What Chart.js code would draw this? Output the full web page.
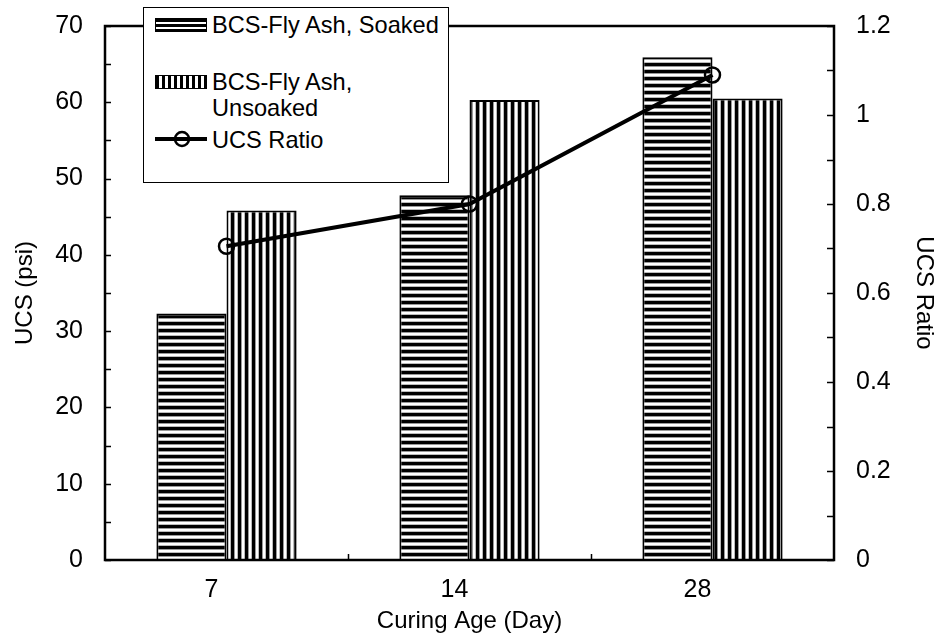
<!DOCTYPE html>
<html>
<head>
<meta charset="utf-8">
<script src="https://cdn.jsdelivr.net/npm/chart.js@4.4.1/dist/chart.umd.min.js"></script>
<style>
  body { margin: 0; background: #fff; }
  #wrap { position: relative; width: 938px; height: 637px; }
  #chart { position: absolute; left: 0; top: 0; }
  #legend {
    position: absolute; left: 143px; top: 7px; width: 306px; height: 176px;
    box-sizing: border-box; border: 1.5px solid #000; background: #fff;
    font-family: "Liberation Sans", Arial, sans-serif; font-size: 23.6px; color: #000;
  }
  #legend .txt { position: absolute; left: 68px; line-height: 26px; white-space: nowrap; }
  #legend .sw { position: absolute; left: 11px; width: 52px; height: 14px; box-sizing: border-box; border: 1.5px solid #000; }
  .sw.horiz { background: repeating-linear-gradient(to bottom, #000 0 3px, #fff 3px 5px); }
  .sw.vert { background: repeating-linear-gradient(to right, #000 0 3px, #fff 3px 6px); }
</style>
</head>
<body>
<div id="wrap">
  <canvas id="chart" width="938" height="637"></canvas>
  <div id="legend">
    <div class="sw horiz" style="top:10px"></div>
    <div class="txt" style="top:4px">BCS-Fly Ash, Soaked</div>
    <div class="sw vert" style="top:67px"></div>
    <div class="txt" style="top:61px">BCS-Fly Ash,<br>Unsoaked</div>
    <svg style="position:absolute;left:11px;top:121px" width="52" height="20">
      <line x1="0" y1="10" x2="52" y2="10" stroke="#000" stroke-width="4"/>
      <circle cx="27" cy="10" r="7" fill="none" stroke="#000" stroke-width="2.5"/>
    </svg>
    <div class="txt" style="top:119px">UCS Ratio</div>
  </div>
</div>
<script>
const categories = ['7', '14', '28'];
const soaked = [32.3, 47.8, 65.9];
const unsoaked = [45.8, 60.3, 60.5];
const ratio = [0.705, 0.80, 1.09];

Chart.defaults.font.family = '"Liberation Sans", Arial, sans-serif';
Chart.defaults.color = '#000';

function stripes(horizontal) {
  const c = document.createElement('canvas');
  c.width = 7; c.height = 7;
  const g = c.getContext('2d');
  g.fillStyle = '#fff';
  g.fillRect(0, 0, 7, 7);
  const cols = ['#000', '#000', '#000', '#999', '#fff', '#fff', '#bbb'];
  cols.forEach((col, i) => {
    g.fillStyle = col;
    if (horizontal) g.fillRect(0, i, 7, 1);
    else g.fillRect(i, 0, 1, 7);
  });
  return g.createPattern(c, 'repeat');
}

// frame + inside tick marks like the original
const frameTicks = {
  id: 'frameTicks',
  afterDraw(chart) {
    const { ctx, chartArea: a, scales } = chart;
    ctx.save();
    ctx.strokeStyle = '#000';
    ctx.lineWidth = 1.5;
    ctx.beginPath();
    for (let v = scales.y.min; v <= scales.y.max; v += 5) {
      const y = Math.round(scales.y.getPixelForValue(v)) + 0.5;
      ctx.moveTo(a.left, y); ctx.lineTo(a.left + 6, y);
    }
    for (let i = 0; i <= 12; i++) {
      const y = Math.round(scales.y1.getPixelForValue(i / 10)) + 0.5;
      ctx.moveTo(a.right - 7, y); ctx.lineTo(a.right, y);
    }
    for (let i = 0; i < categories.length - 1; i++) {
      const x = Math.round((scales.x.getPixelForValue(i) + scales.x.getPixelForValue(i + 1)) / 2) + 0.5;
      ctx.moveTo(x, a.bottom); ctx.lineTo(x, a.bottom - 6);
    }
    ctx.stroke();
    ctx.lineWidth = 2.5;
    ctx.strokeRect(a.left, a.top, a.right - a.left, a.bottom - a.top);
    ctx.restore();
  }
};

const ctx = document.getElementById('chart');
new Chart(ctx, {
  data: {
    labels: categories,
    datasets: [
      {
        type: 'line',
        label: 'UCS Ratio',
        data: ratio,
        yAxisID: 'y1',
        order: 0,
        borderColor: '#000',
        borderWidth: 4,
        tension: 0,
        pointRadius: 7.5,
        pointBorderWidth: 2.5,
        pointBorderColor: '#000',
        pointBackgroundColor: 'rgba(0,0,0,0)'
      },
      {
        type: 'bar',
        label: 'BCS-Fly Ash, Soaked',
        data: soaked,
        yAxisID: 'y',
        order: 1,
        backgroundColor: stripes(true),
        borderColor: '#000',
        borderWidth: 2,
        categoryPercentage: 0.577,
        barPercentage: 1
      },
      {
        type: 'bar',
        label: 'BCS-Fly Ash, Unsoaked',
        data: unsoaked,
        yAxisID: 'y',
        order: 2,
        backgroundColor: stripes(false),
        borderColor: '#000',
        borderWidth: 2,
        categoryPercentage: 0.577,
        barPercentage: 1
      }
    ]
  },
  options: {
    responsive: false,
    animation: false,
    layout: { padding: { top: 26, left: 0, right: 0, bottom: 0 } },
    plugins: { legend: { display: false }, tooltip: { enabled: false } },
    scales: {
      x: {
        grid: { display: false, drawTicks: false },
        border: { display: false },
        ticks: { font: { size: 25 }, padding: 15, labelOffset: -15 },
        title: { display: true, text: 'Curing Age (Day)', font: { size: 24 }, padding: { top: 0, bottom: 1 } },
        afterFit: s => { s.height = 77; }
      },
      y: {
        position: 'left',
        min: 0, max: 70,
        grid: { display: false, drawTicks: false },
        border: { display: false },
        ticks: { stepSize: 10, font: { size: 25 }, padding: 22 },
        title: { display: true, text: 'UCS (psi)', font: { size: 24 }, padding: { top: 11, bottom: 0 } },
        afterFit: s => { s.width = 105; s.paddingTop = 0; s.paddingBottom = 0; }
      },
      y1: {
        position: 'right',
        min: 0, max: 1.2,
        grid: { display: false, drawTicks: false },
        border: { display: false },
        ticks: {
          stepSize: 0.2, font: { size: 25 }, padding: 22,
          callback: v => String(parseFloat(v.toFixed(2)))
        },
        title: { display: true, text: 'UCS Ratio', font: { size: 24 }, padding: { top: 0, bottom: 0 } },
        afterFit: s => { s.width = 104; s.paddingTop = 0; s.paddingBottom = 0; }
      }
    }
  },
  plugins: [frameTicks]
});
</script>
</body>
</html>
